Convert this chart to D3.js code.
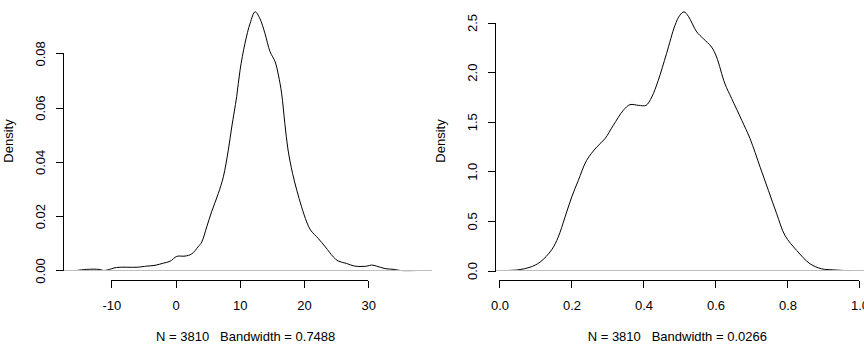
<!DOCTYPE html>
<html>
<head>
<meta charset="utf-8">
<script src="https://cdn.jsdelivr.net/npm/d3@7"></script>
<style>
  html, body { margin: 0; padding: 0; background: #ffffff; }
  svg { display: block; }
  text { font-family: "Liberation Sans", Arial, sans-serif; font-size: 13px; fill: #000; white-space: pre; }
</style>
</head>
<body>
<svg id="chart" width="864" height="360"></svg>
<script>
// ---- Data ----
const leftX = [-15.4, -13.9, -11.9, -11.2, -10.6, -9.2, -6.0, -4.5, -3.2, -1.9, -0.86, 0.18, 1.47, 2.5, 3.5, 4.07, 4.85, 5.6, 6.65, 7.43, 8.2, 8.74, 9.5, 10.03, 10.8, 11.6, 12.37, 13.1, 13.9, 14.7, 15.5, 16.0, 16.5, 17.0, 17.5, 18.2, 18.86, 19.6, 20.4, 21.0, 22.2, 23.3, 24.55, 25.3, 26.6, 27.9, 29.75, 30.5, 31.3, 32.6, 34.0, 35.0, 37.7];
const leftDensity = [0, 0.0004, 0.0004, 0, 0.0002, 0.0011, 0.0012, 0.0016, 0.0019, 0.0027, 0.0034, 0.0052, 0.0053, 0.0061, 0.0087, 0.0105, 0.0161, 0.0216, 0.0284, 0.0345, 0.0443, 0.0529, 0.0640, 0.0738, 0.0837, 0.0911, 0.0953, 0.0929, 0.0874, 0.0806, 0.0769, 0.0720, 0.0653, 0.0542, 0.0444, 0.0358, 0.0296, 0.0235, 0.0179, 0.0149, 0.0118, 0.0087, 0.0050, 0.0035, 0.0026, 0.0016, 0.0016, 0.0020, 0.0016, 0.0007, 0.0004, 0, 0];

const rightX = [0.02, 0.052, 0.085, 0.1125, 0.145, 0.163, 0.182, 0.2005, 0.219, 0.242, 0.270, 0.293, 0.316, 0.344, 0.3625, 0.386, 0.407, 0.423, 0.441, 0.464, 0.4875, 0.501, 0.5125, 0.5245, 0.548, 0.566, 0.589, 0.603, 0.626, 0.645, 0.673, 0.696, 0.724, 0.747, 0.770, 0.793, 0.8255, 0.8625, 0.895, 0.925, 0.96, 0.98];
const rightDensity = [0, 0.007, 0.033, 0.084, 0.209, 0.336, 0.538, 0.740, 0.908, 1.110, 1.244, 1.329, 1.463, 1.615, 1.672, 1.665, 1.665, 1.749, 1.917, 2.187, 2.472, 2.573, 2.607, 2.563, 2.405, 2.338, 2.253, 2.152, 1.884, 1.733, 1.514, 1.329, 1.042, 0.807, 0.572, 0.353, 0.202, 0.068, 0.017, 0.007, 0, 0];

const leftXTicks = [-10, 0, 10, 20, 30];
const leftXTickLabels = ["-10", "0", "10", "20", "30"];
const leftYTicks = [0, 0.02, 0.04, 0.06, 0.08];
const leftYTickLabels = ["0.00", "0.02", "0.04", "0.06", "0.08"];
const rightXTicks = [0, 0.2, 0.4, 0.6, 0.8, 1.0];
const rightXTickLabels = ["0.0", "0.2", "0.4", "0.6", "0.8", "1.0"];
const rightYTicks = [0, 0.5, 1.0, 1.5, 2.0, 2.5];
const rightYTickLabels = ["0.0", "0.5", "1.0", "1.5", "2.0", "2.5"];

const yLabel = "Density";
const leftSub = "N = 3810   Bandwidth = 0.7488";
const rightSub = "N = 3810   Bandwidth = 0.0266";

// ---- Drawing ----
const svg = d3.select("#chart");

function panel(cfg) {
  const x = d3.scaleLinear().domain(cfg.xDomain).range(cfg.xRange);
  const y = d3.scaleLinear().domain(cfg.yDomain).range(cfg.yRange);
  const g = svg.append("g");
  const axisY = cfg.xRange[0];
  const axisXLineY = cfg.yRange[0];

  // density curve
  const line = d3.line().x(d => x(d[0])).y(d => y(Math.max(0, d[1]))).curve(d3.curveCatmullRom.alpha(0.5));
  g.append("path")
    .datum(cfg.xs.map((v, i) => [v, cfg.ds[i]]))
    .attr("d", line)
    .attr("fill", "none")
    .attr("stroke", "#000")
    .attr("stroke-width", 1);

  // gray zero line (drawn on top, like abline)
  g.append("line")
    .attr("x1", cfg.xRange[0]).attr("x2", cfg.xRange[1])
    .attr("y1", y(0)).attr("y2", y(0))
    .attr("stroke", "#bebebe").attr("stroke-width", 1)
    .attr("shape-rendering", "crispEdges");

  // bottom axis (R style: line from first to last tick)
  const xAxis = d3.axisBottom(x).tickValues(cfg.xTicks).tickSize(7.5)
    .tickFormat((d, i) => cfg.xTickLabels[i]);
  const gx = g.append("g").attr("transform", `translate(0,${axisXLineY})`).call(xAxis);
  gx.select(".domain").remove();
  gx.append("line")
    .attr("x1", x(cfg.xTicks[0])).attr("x2", x(cfg.xTicks[cfg.xTicks.length - 1]))
    .attr("y1", 0).attr("y2", 0)
    .attr("stroke", "#000").attr("shape-rendering", "crispEdges");
  gx.selectAll(".tick line").attr("stroke", "#000").attr("shape-rendering", "crispEdges");
  gx.selectAll(".tick text")
    .attr("y", 29.5).attr("dy", null)
    .style("font-family", '"Liberation Sans", Arial, sans-serif')
    .style("font-size", "13px").attr("fill", "#000");

  // left axis
  const yAxis = d3.axisLeft(y).tickValues(cfg.yTicks).tickSize(8)
    .tickFormat((d, i) => cfg.yTickLabels[i]);
  const gy = g.append("g").attr("transform", `translate(${axisY},0)`).call(yAxis);
  gy.select(".domain").remove();
  gy.append("line")
    .attr("x1", 0).attr("x2", 0)
    .attr("y1", y(cfg.yTicks[0])).attr("y2", y(cfg.yTicks[cfg.yTicks.length - 1]))
    .attr("stroke", "#000").attr("shape-rendering", "crispEdges");
  gy.selectAll(".tick line").attr("stroke", "#000").attr("shape-rendering", "crispEdges");
  gy.selectAll(".tick text")
    .attr("x", null).attr("dy", null)
    .attr("text-anchor", "middle")
    .attr("transform", "translate(-18.3,0) rotate(-90)")
    .style("font-family", '"Liberation Sans", Arial, sans-serif')
    .style("font-size", "13px").attr("fill", "#000");

  // y label
  const cy = (cfg.yRange[0] + cfg.yRange[1]) / 2;
  g.append("text")
    .attr("transform", `translate(${axisY - 50.7},${cy}) rotate(-90)`)
    .attr("text-anchor", "middle")
    .text(yLabel);

  // subtitle
  g.append("text")
    .attr("x", (cfg.xRange[0] + cfg.xRange[1]) / 2 + cfg.subShift)
    .attr("y", 341)
    .attr("text-anchor", "middle")
    .attr("xml:space", "preserve")
    .text(cfg.sub);
}

panel({
  xs: leftX, ds: leftDensity,
  xDomain: [-17.45, 39.83], xRange: [63.5, 431.5],
  yDomain: [-0.00369, 0.0991], yRange: [280.5, 1.5],
  xTicks: leftXTicks, xTickLabels: leftXTickLabels,
  yTicks: leftYTicks, yTickLabels: leftYTickLabels,
  sub: leftSub, subShift: -1.8
});

panel({
  xs: rightX, ds: rightDensity,
  xDomain: [-0.0111, 1.02], xRange: [495.5, 866.7],
  yDomain: [-0.1008, 2.7117], yRange: [280.5, 1.5],
  xTicks: rightXTicks, xTickLabels: rightXTickLabels,
  yTicks: rightYTicks, yTickLabels: rightYTickLabels,
  sub: rightSub, subShift: -3.8
});
</script>
</body>
</html>
